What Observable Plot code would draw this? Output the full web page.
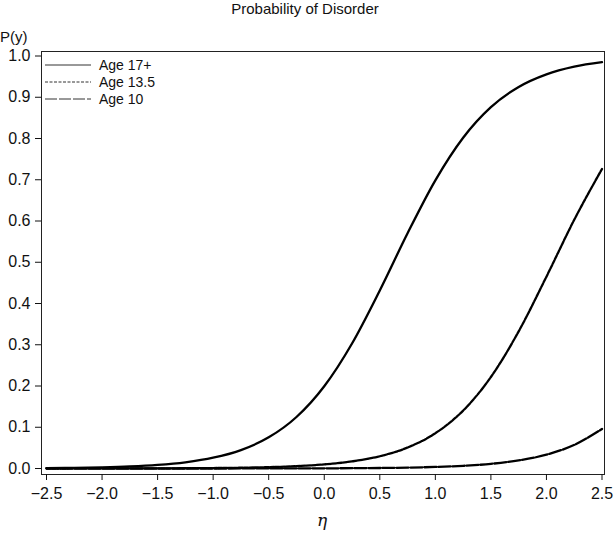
<!DOCTYPE html>
<html>
<head>
<meta charset="utf-8">
<script src="https://cdn.jsdelivr.net/npm/d3@7"></script>
<script src="https://cdn.jsdelivr.net/npm/@observablehq/plot@0.6"></script>
<style>
  html, body { margin: 0; padding: 0; background: #fff; }
  #chart { position: relative; width: 616px; height: 533px; }
  svg { font-family: "Liberation Sans", Arial, sans-serif; }
</style>
</head>
<body>
<div id="chart"></div>
<script>
const title = "Probability of Disorder";
const yLabel = "P(y)";
const xLabel = "η";
const seriesNames = ["Age 17+", "Age 13.5", "Age 10"];
const dashes = [null, "4,1.2", "12,2"];

const eta = [-2.5, -2.25, -2.0, -1.75, -1.5, -1.25, -1.0, -0.75, -0.5, -0.25, 0.0,
             0.25, 0.5, 0.75, 1.0, 1.25, 1.5, 1.75, 2.0, 2.25, 2.5];
const age17 = [0.0009, 0.0017, 0.0029, 0.0050, 0.0087, 0.0151, 0.0261, 0.0447, 0.0755, 0.1248, 0.1994,
               0.3031, 0.4317, 0.5702, 0.6985, 0.8018, 0.8760, 0.9250, 0.9556, 0.9741, 0.9850];
const age135 = [0.00004, 0.00007, 0.00012, 0.0002, 0.00035, 0.00062, 0.00108, 0.00188, 0.00329, 0.00572, 0.00995,
                0.01724, 0.0297, 0.0508, 0.0855, 0.1403, 0.2218, 0.3324, 0.4651, 0.6029, 0.7261];
const age10 = [0.0, 0.0, 0.00001, 0.00001, 0.00003, 0.00003, 0.00004, 0.00008, 0.00013, 0.00023, 0.0004,
               0.0007, 0.00122, 0.00213, 0.00372, 0.00648, 0.0113, 0.0195, 0.0336, 0.0572, 0.0958];
const xTicks = [-2.5, -2.0, -1.5, -1.0, -0.5, 0.0, 0.5, 1.0, 1.5, 2.0, 2.5];
const yTicks = [0.0, 0.1, 0.2, 0.3, 0.4, 0.5, 0.6, 0.7, 0.8, 0.9, 1.0];

const seriesValues = [age17, age135, age10];
const rows = [];
seriesNames.forEach((s, k) => eta.forEach((e, i) => rows.push({series: s, eta: e, p: seriesValues[k][i]})));
const legend = seriesNames.map((s, i) => ({series: s, i}));

const marks = [Plot.frame({stroke: "#222", strokeWidth: 1})];
seriesNames.forEach((s, k) => {
  marks.push(Plot.line(rows.filter(d => d.series === s), {
    x: "eta", y: "p", curve: "monotone-x",
    stroke: "#000", strokeWidth: 2.3,
    strokeDasharray: dashes[k] || undefined
  }));
});

marks.push(
  Plot.axisX(xTicks, {tickSize: 6, tickPadding: 7, fontSize: 16, tickFormat: d3.format(".1f"), label: null}),
  Plot.axisY(yTicks, {tickSize: 6, tickPadding: 5, fontSize: 16, tickFormat: d3.format(".1f"), label: null})
);

const chart = Plot.plot({
  width: 616, height: 533,
  marginLeft: 41, marginRight: 12, marginTop: 51, marginBottom: 59,
  x: {domain: [-2.5, 2.5], insetLeft: 5, insetRight: 2.5},
  y: {domain: [0, 1], insetTop: 4.5, insetBottom: 6},
  style: {fontFamily: "'Liberation Sans', Arial, sans-serif", color: "#111", background: "#fff"},
  marks
});

const svg = d3.select(chart);
// title
svg.append("text").attr("x", 305).attr("y", 14).attr("text-anchor", "middle")
  .attr("font-size", 15).attr("fill", "#111").text(title);
// y label
svg.append("text").attr("x", 0).attr("y", 42).attr("text-anchor", "start")
  .attr("font-size", 15).attr("fill", "#111").text(yLabel);
// x label
svg.append("text").attr("x", 322).attr("y", 526).attr("text-anchor", "middle")
  .attr("font-size", 17).attr("font-style", "italic").attr("font-family", "'DejaVu Serif', serif")
  .attr("fill", "#111").text(xLabel);
// legend
const lg = svg.append("g");
legend.forEach(d => {
  const yy = 65 + d.i * 17;
  lg.append("line").attr("x1", 45).attr("x2", 91).attr("y1", yy).attr("y2", yy)
    .attr("stroke", "#333").attr("stroke-width", 1)
    .attr("stroke-dasharray", d.i === 1 ? "3,1.5" : d.i === 2 ? "12,2" : null);
  lg.append("text").attr("x", 99).attr("y", yy).attr("dy", "0.36em").attr("text-anchor", "start")
    .attr("font-size", 14).attr("fill", "#111").text(d.series);
});

document.getElementById("chart").appendChild(chart);
</script>
</body>
</html>
